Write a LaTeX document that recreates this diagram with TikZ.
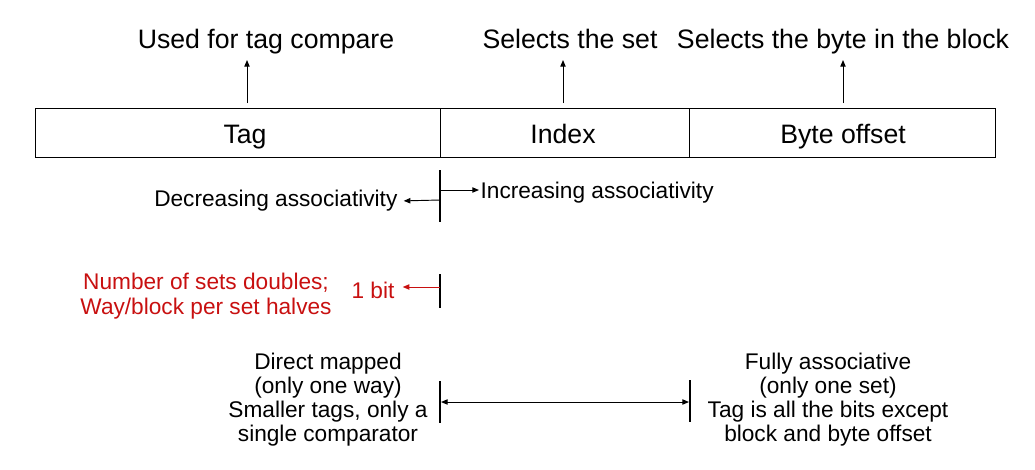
\documentclass[tikz,border=0pt]{standalone}
\usepackage{fontspec}
\setmainfont{Liberation Sans}
\usetikzlibrary{arrows.meta}
\definecolor{myred}{RGB}{200,16,16}
\tikzset{
  cell/.style={draw, line width=0.7pt, minimum height=36.75pt, inner sep=0pt},
  toptxt/.style={font=\fontsize{20}{24}\selectfont, inner sep=0pt, anchor=base},
  body/.style={font=\fontsize{17}{18}\selectfont, align=center, inner sep=1pt},
  redtxt/.style={body, text=myred, font=\fontsize{17}{18.8}\selectfont},
  arr/.style={line width=0.7pt, -{Triangle[length=5pt,width=4pt]}},
  darr/.style={line width=0.7pt, {Triangle[length=5pt,width=4pt]}-{Triangle[length=5pt,width=4pt]}},
  marker/.style={line width=1.6pt}
}
\begin{document}
\begin{tikzpicture}[x=0.75pt,y=-0.75pt]
\useasboundingbox (0,0) rectangle (1035,469);
% address fields
\node[cell, minimum width=303.75pt] (tag) at (237.5,132.5) {};
\node[toptxt] (tagl) at (245,143) {Tag};
\node[cell, minimum width=186.75pt] (index) at (564.5,132.5) {};
\node[toptxt] (indexl) at (563,143) {Index};
\node[cell, minimum width=229.5pt] (byte) at (842,132.5) {};
\node[toptxt] (bytel) at (843,143) {Byte offset};
% top labels
\node[toptxt] (tagtxt) at (266,48) {Used for tag compare};
\node[toptxt] (settxt) at (570,48) {Selects the set};
\node[toptxt] (bytetxt) at (843,48) {Selects the byte in the block};
\coordinate (u1s) at (247,103); \coordinate (u1e) at (247,60);
\coordinate (u2s) at (563,103); \coordinate (u2e) at (563,60);
\coordinate (u3s) at (843,103); \coordinate (u3e) at (843,60);
\draw[arr] (u1s) -- (u1e);
\draw[arr] (u2s) -- (u2e);
\draw[arr] (u3s) -- (u3e);
% associativity marker
\coordinate (m1t) at (440,170); \coordinate (m1b) at (440,222);
\draw[marker] (m1t) -- (m1b);
\node[body, anchor=east] (dec) at (399,201) {Decreasing associativity};
\node[body, anchor=west] (inc) at (479,193) {Increasing associativity};
\coordinate (decs) at (440,200); \coordinate (incs) at (440,190);
\draw[arr, shorten >=3.5pt] (decs) -- (dec.east);
\draw[arr] (incs) -- (incs -| inc.west);
% one bit marker
\coordinate (m2t) at (440,274); \coordinate (m2b) at (440,308);
\draw[marker] (m2t) -- (m2b);
\node[body, text=myred] (bit) at (373,290) {1 bit};
\coordinate (bits) at (440,287);
\draw[arr, myred, shorten >=5pt] (bits) -- (bits -| bit.east);
\node[redtxt] (redtxt) at (206,296) {Number of sets doubles;\\Way/block per set halves};
% range
\coordinate (m3t) at (440,381); \coordinate (m3b) at (440,423);
\coordinate (m4t) at (690,380); \coordinate (m4b) at (690,422);
\draw[marker] (m3t) -- (m3b);
\draw[marker] (m4t) -- (m4b);
\coordinate (ra) at (441,402); \coordinate (rb) at (689,402);
\draw[darr] (ra) -- (rb);
\node[body] (dm) at (328,399.5) {Direct mapped\\(only one way)\\Smaller tags, only a\\single comparator};
\node[body] (fa) at (828,399.5) {Fully associative\\(only one set)\\Tag is all the bits except\\block and byte offset};
\end{tikzpicture}
\end{document}
